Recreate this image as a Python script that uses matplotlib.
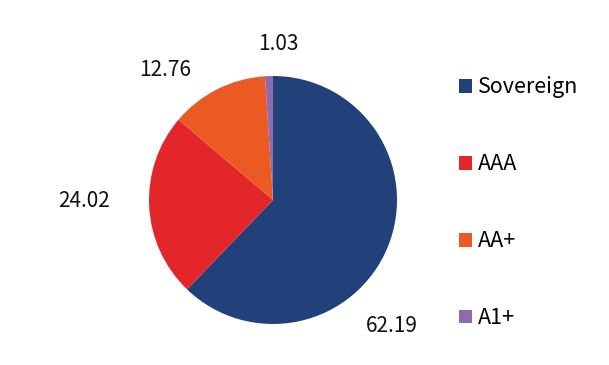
import matplotlib
matplotlib.use("Agg")
import matplotlib.pyplot as plt
from matplotlib.patches import Patch

plt.rcParams['font.family'] = ['Noto Sans CJK SC', 'DejaVu Sans']

labels = ['Sovereign', 'AAA', 'AA+', 'A1+']
values = [62.19, 24.02, 12.76, 1.03]
colors = ['#22417a', '#e3262a', '#ec5a24', '#8c6bb1']
# label positions in pie units (radius = 1)
label_pos = [(0.96, -1.02), (-1.52, -0.01), (-0.87, 1.05), (0.04, 1.26)]

fig = plt.figure(figsize=(6.09, 3.65), dpi=100)
cx, cy, r = 273, 165, 124
ax = fig.add_axes([(cx - r) / 609, (cy - r) / 365, 2 * r / 609, 2 * r / 365])
ax.pie(values, colors=colors, startangle=90, counterclock=False,
       wedgeprops=dict(linewidth=0))
ax.set_xlim(-1, 1)
ax.set_ylim(-1, 1)
ax.set_aspect('equal')
ax.axis('off')

for v, (x, y) in zip(values, label_pos):
    ax.text(x, y, f"{v:.2f}", ha='center', va='center', fontsize=15,
            color='#111111', clip_on=False)

handles = [Patch(facecolor=c, edgecolor='none') for c in colors]
fig.legend(handles, labels, loc='upper left', bbox_to_anchor=(0.736, 0.82),
           frameon=False, fontsize=15.5, labelspacing=2.55, handlelength=0.6,
           handleheight=0.6, handletextpad=0.3, borderpad=0)

fig.savefig('out.png', dpi=100)
